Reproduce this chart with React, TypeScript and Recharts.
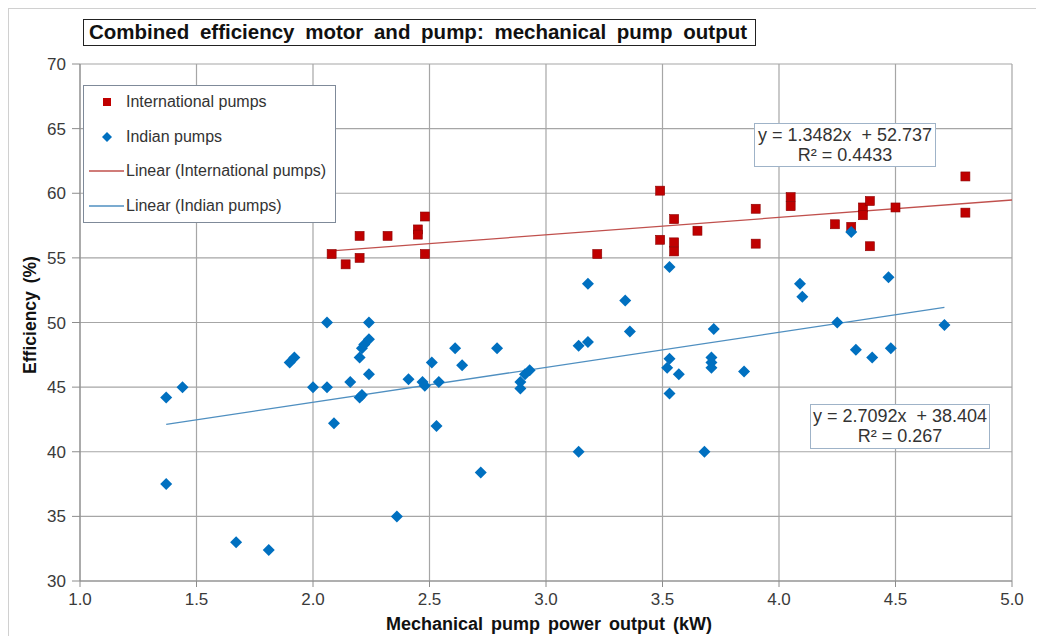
import React from "react";
import {
  ScatterChart,
  Scatter,
  XAxis,
  YAxis,
  CartesianGrid,
} from "recharts";

// International pumps (red squares)
const intlX = [
  2.08, 2.14, 2.2, 2.2, 2.32, 2.45, 2.45, 2.48, 2.48,
  3.22, 3.49, 3.49, 3.55, 3.55, 3.55, 3.65, 3.9, 3.9, 4.05, 4.05,
  4.24, 4.31, 4.36, 4.36, 4.39, 4.39, 4.5, 4.8, 4.8,
];
const intlY = [
  55.3, 54.5, 56.7, 55.0, 56.7, 57.2, 56.8, 58.2, 55.3,
  55.3, 60.2, 56.4, 58.0, 56.2, 55.5, 57.1, 58.8, 56.1, 59.7, 59.0,
  57.6, 57.4, 58.9, 58.3, 59.4, 55.9, 58.9, 61.3, 58.5,
];

// Indian pumps (blue diamonds)
const indianX = [
  1.37, 1.44, 1.37, 1.67, 1.81, 1.9, 1.92, 2.0, 2.06, 2.06, 2.09,
  2.16, 2.2, 2.21, 2.22, 2.24, 2.24, 2.24, 2.2, 2.21, 2.36, 2.41,
  2.47, 2.48, 2.51, 2.54, 2.53, 2.61, 2.64, 2.72, 2.79,
  2.89, 2.89, 2.91, 2.93, 3.14, 3.18, 3.18, 3.34, 3.36, 3.53, 3.53,
  3.52, 3.57, 3.71, 3.71, 3.71, 3.72, 3.85, 3.53, 3.14, 3.68,
  4.31, 4.09, 4.1, 4.47, 4.25, 4.71, 4.33, 4.4, 4.48,
];
const indianY = [
  44.2, 45.0, 37.5, 33.0, 32.4, 46.9, 47.3, 45.0, 50.0, 45.0, 42.2,
  45.4, 47.3, 48.0, 48.3, 48.7, 50.0, 46.0, 44.2, 44.4, 35.0, 45.6,
  45.4, 45.1, 46.9, 45.4, 42.0, 48.0, 46.7, 38.4, 48.0,
  44.9, 45.4, 46.0, 46.3, 48.2, 48.5, 53.0, 51.7, 49.3, 54.3, 47.2,
  46.5, 46.0, 47.3, 46.9, 46.5, 49.5, 46.2, 44.5, 40.0, 40.0,
  57.0, 53.0, 52.0, 53.5, 50.0, 49.8, 47.9, 47.3, 48.0,
];

const xTicks = [1.0, 1.5, 2.0, 2.5, 3.0, 3.5, 4.0, 4.5, 5.0];
const yTicks = [30, 35, 40, 45, 50, 55, 60, 65, 70];

const intlFit = { slope: 1.3482, intercept: 52.737, r2: "0.4433" };
const indianFit = { slope: 2.7092, intercept: 38.404, r2: "0.267" };

const intlData = intlX.map((x, i) => ({ x, y: intlY[i] }));
const indianData = indianX.map((x, i) => ({ x, y: indianY[i] }));

const fitLine = (xs: number[], fit: { slope: number; intercept: number }, xEnd: number) => {
  const x0 = Math.min(...xs);
  return [
    { x: x0, y: fit.slope * x0 + fit.intercept },
    { x: xEnd, y: fit.slope * xEnd + fit.intercept },
  ];
};

const intlTrend = fitLine(intlX, intlFit, 5.0);
const indianTrend = fitLine(indianX, indianFit, Math.max(...indianX));

const RED = "#C00000";
const BLUE = "#0070C0";
const RED_LINE = "#C0504D";
const BLUE_LINE = "#4F8FC0";
const FONT = "'Liberation Sans', Arial, sans-serif";

const Square = (props: any) => {
  const { cx, cy } = props;
  if (cx == null || cy == null) return <g />;
  return <rect x={cx - 4.5} y={cy - 4.5} width={9} height={9} fill={RED} stroke="#8B0000" strokeWidth={0.6} />;
};

const Diamond = (props: any) => {
  const { cx, cy } = props;
  if (cx == null || cy == null) return <g />;
  const r = 6;
  return <path d={`M${cx},${cy - r}L${cx + r},${cy}L${cx},${cy + r}L${cx - r},${cy}Z`} fill={BLUE} />;
};

const NoDot = () => <g />;

const eqBox: React.CSSProperties = {
  position: "absolute",
  border: "1px solid #9fb3c8",
  boxSizing: "border-box",
  background: "#fff",
  textAlign: "center",
  fontSize: 18,
  lineHeight: "20px",
  color: "#333",
  paddingTop: 1,
  whiteSpace: "pre",
};

export default function App() {
  return (
    <div
      style={{
        position: "relative",
        width: 1036,
        height: 628,
        fontFamily: FONT,
        background: "#fff",
        borderTop: "1px solid #d0d0d0",
        borderLeft: "1px solid #d0d0d0",
        boxSizing: "border-box",
      }}
    >
      <ScatterChart
        width={1036}
        height={620}
        margin={{ top: 55, right: 33, bottom: 18, left: 11 }}
      >
        <CartesianGrid stroke="#a6a6a6" strokeWidth={1.2} />
        <XAxis
          type="number"
          dataKey="x"
          domain={[1, 5]}
          ticks={xTicks}
          tickFormatter={(v: number) => v.toFixed(1)}
          height={30}
          tick={{ fill: "#3a3a3a", fontSize: 17, fontFamily: FONT }}
          stroke="#8c8c8c"
          tickSize={6}
          tickMargin={6}
          allowDataOverflow
        />
        <YAxis
          type="number"
          dataKey="y"
          domain={[30, 70]}
          ticks={yTicks}
          width={60}
          tick={{ fill: "#3a3a3a", fontSize: 17, fontFamily: FONT }}
          stroke="#8c8c8c"
          tickSize={8}
          tickMargin={6}
          allowDataOverflow
        />
        <Scatter
          data={intlTrend}
          line={{ stroke: RED_LINE, strokeWidth: 1.3 }}
          shape={NoDot}
          isAnimationActive={false}
        />
        <Scatter
          data={indianTrend}
          line={{ stroke: BLUE_LINE, strokeWidth: 1.3 }}
          shape={NoDot}
          isAnimationActive={false}
        />
        <Scatter data={intlData} shape={Square} isAnimationActive={false} />
        <Scatter data={indianData} shape={Diamond} isAnimationActive={false} />
      </ScatterChart>

      {/* title box */}
      <div
        style={{
          position: "absolute",
          left: 74,
          top: 10,
          width: 673,
          height: 27,
          border: "1.5px solid #222",
          boxSizing: "border-box",
          fontWeight: "bold",
          fontSize: 20.5,
          lineHeight: "24px",
          paddingLeft: 5,
          color: "#111",
          background: "#fff",
          whiteSpace: "nowrap",
          wordSpacing: 5,
        }}
      >
        Combined efficiency motor and pump: mechanical pump output
      </div>

      {/* legend */}
      <div
        style={{
          position: "absolute",
          left: 74,
          top: 76,
          width: 253,
          height: 138,
          border: "1px solid #7f8a99",
          boxSizing: "border-box",
          background: "#fff",
          fontSize: 16,
          color: "#333",
        }}
      >
        {[
          { label: "International pumps", kind: "square" },
          { label: "Indian pumps", kind: "diamond" },
          { label: "Linear (International pumps)", kind: "redline" },
          { label: "Linear (Indian pumps)", kind: "blueline" },
        ].map((item, i) => (
          <div
            key={item.label}
            style={{ position: "absolute", left: 0, top: 6 + i * 34.5, height: 20, display: "flex", alignItems: "center", whiteSpace: "nowrap" }}
          >
            <svg width={44} height={20} style={{ flex: "none" }}>
              {item.kind === "square" && <rect x={19} y={6} width={8} height={8} fill={RED} />}
              {item.kind === "diamond" && <path d="M23,5L28,10L23,15L18,10Z" fill={BLUE} />}
              {item.kind === "redline" && <line x1={5} y1={10} x2={40} y2={10} stroke={RED_LINE} strokeWidth={1.3} />}
              {item.kind === "blueline" && <line x1={5} y1={10} x2={40} y2={10} stroke={BLUE_LINE} strokeWidth={1.3} />}
            </svg>
            <span style={{ marginLeft: -2 }}>{item.label}</span>
          </div>
        ))}
      </div>

      {/* trendline equations */}
      <div style={{ ...eqBox, left: 745, top: 114, width: 182, height: 44 }}>
        <div>{`y = ${intlFit.slope}x  + ${intlFit.intercept}`}</div>
        <div>{`R² = ${intlFit.r2}`}</div>
      </div>
      <div style={{ ...eqBox, left: 801, top: 395, width: 180, height: 45 }}>
        <div>{`y = ${indianFit.slope}x  + ${indianFit.intercept}`}</div>
        <div>{`R² = ${indianFit.r2}`}</div>
      </div>

      {/* axis titles */}
      <div
        style={{
          position: "absolute",
          left: 21,
          top: 306,
          transform: "translate(-50%, -50%) rotate(-90deg)",
          fontWeight: "bold",
          fontSize: 17.5,
          color: "#111",
          whiteSpace: "nowrap",
          wordSpacing: 3,
        }}
      >
        Efficiency (%)
      </div>
      <div
        style={{
          position: "absolute",
          left: 540,
          top: 615,
          transform: "translate(-50%, -50%)",
          fontWeight: "bold",
          fontSize: 18,
          color: "#111",
          whiteSpace: "nowrap",
          wordSpacing: 3,
        }}
      >
        Mechanical pump power output (kW)
      </div>
    </div>
  );
}
